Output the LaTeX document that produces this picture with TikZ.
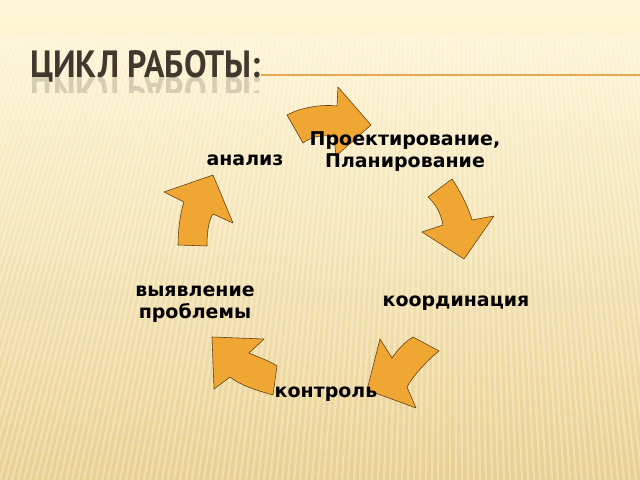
\documentclass[tikz,border=0pt]{standalone}
\usepackage{fontspec}
\setmainfont{DejaVu Sans}
\newfontfamily\titlefont{PT Sans}
\definecolor{bgtop}{RGB}{255,247,216}
\definecolor{bgmid}{RGB}{250,235,186}
\definecolor{bgbot}{RGB}{233,208,144}
\definecolor{arrowfill}{RGB}{240,166,50}
\definecolor{arrowline}{RGB}{95,60,20}
\definecolor{titlegray}{RGB}{66,56,46}
\definecolor{rulecolor}{RGB}{228,166,78}
\begin{document}
\begin{tikzpicture}[x=0.025cm, y=-0.025cm,
  stage/.style={font=\bfseries\fontsize{13.5}{15.6}\selectfont, align=center, inner sep=0pt},
  titletext/.style={font=\titlefont\bfseries\fontsize{27}{27}\selectfont, text=titlegray, inner sep=0pt},
  blockarrow/.style={fill=arrowfill, draw=arrowline, line width=0.4pt, line join=round},
  stripe/.style={white, opacity=0.3, line width=1.6pt}]
  \useasboundingbox (0,0) rectangle (640,480);
  \shade[top color=bgtop, middle color=bgmid, bottom color=bgbot] (0,0) rectangle (640,480);
  \begin{scope}
    \clip (0,35) rectangle (640,480);
    \foreach \x in {-300,-294,...,1100}
      \draw[stripe] (450,-1200) -- (\x,480);
  \end{scope}

  \node[titletext, anchor=base west] (title) at (30,77) {\scalebox{0.89}[1]{ЦИКЛ РАБОТЫ:}};
  \begin{scope}
    \clip (0,77) rectangle (300,92);
    \begin{scope}[shift={(30,77)}, yscale=-1]
      \node[titletext, anchor=base west, transform shape, opacity=0.2] (mirror) at (0,0) {\scalebox{0.89}[1]{ЦИКЛ РАБОТЫ:}};
    \end{scope}
  \end{scope}
  \coordinate (ruleend) at (640,75);
  \draw[rulecolor, line width=1pt] (title.east |- ruleend) -- (ruleend);

  \draw[blockarrow] (287,115) .. controls (300,108) and (320,104) .. (337,106) -- (338,87) -- (371,125)
    -- (336,156) -- (334,137) .. controls (322,134) and (311,137) .. (303,143) -- cycle;
  \draw[blockarrow] (452,179) .. controls (459,189) and (468,206) .. (472,220) -- (494,216) -- (464,259)
    -- (422,232) -- (443,225) .. controls (441,214) and (436,204) .. (428,197) -- cycle;
  \draw[blockarrow] (413,337) -- (439,351) .. controls (430,358) and (414,374) .. (407,387) -- (416,408)
    -- (367,390) -- (380,339) -- (392,358) .. controls (398,349) and (405,342) .. (413,337) -- cycle;
  \draw[blockarrow] (212,337) -- (264,339) -- (249,353) .. controls (260,358) and (270,361) .. (277,366)
    -- (273,395) .. controls (255,390) and (240,385) .. (230,377) -- (214,389) -- cycle;
  \draw[blockarrow] (164,192) -- (213,175) -- (233,223) -- (213,214) .. controls (209,220) and (207,230) .. (207,246)
    -- (178,245) .. controls (178,232) and (180,213) .. (184,202) -- cycle;

  \node[stage] (planning) at (405,152) {Проектирование,\\Планирование};
  \node[stage, anchor=base] (analysis) at (245,165) {анализ};
  \node[stage, anchor=base] (coordination) at (456,306) {координация};
  \node[stage, anchor=base] (control) at (326,397) {контроль};
  \node[stage] (problems) at (195,304) {выявление\\проблемы};
\end{tikzpicture}
\end{document}
